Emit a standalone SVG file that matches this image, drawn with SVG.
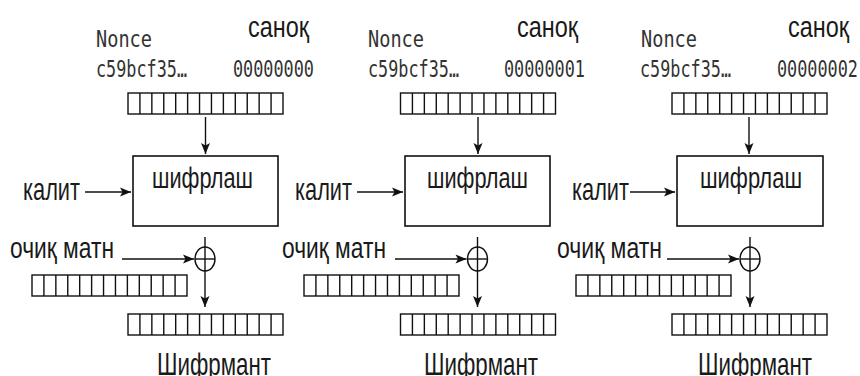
<svg xmlns="http://www.w3.org/2000/svg" xmlns:xlink="http://www.w3.org/1999/xlink" width="860" height="376" viewBox="0 0 860 376">
<style>
.mono{font-family:"DejaVu Sans Mono","Liberation Mono",monospace;font-size:23px;fill:#333}
.lbl{font-family:"Liberation Sans","DejaVu Sans",sans-serif;font-size:30px;fill:#1a1a1a}
.big{font-size:32px}
.box{fill:#fff;stroke:#111;stroke-width:1.6}
.reg rect,.reg path{fill:none;stroke:#111;stroke-width:1.4}
.xor{fill:none;stroke:#111;stroke-width:1.4}
.con{fill:none;stroke:#111;stroke-width:1.4}
</style>
<defs>
<g id="reg" class="reg">
<rect x="0" y="0" width="155" height="21"/>
<path d="M11.92 0v21M23.85 0v21M35.77 0v21M47.69 0v21M59.62 0v21M71.54 0v21M83.46 0v21M95.38 0v21M107.31 0v21M119.23 0v21M131.15 0v21M143.08 0v21"/>
</g>
<marker id="ah" markerUnits="userSpaceOnUse" markerWidth="12" markerHeight="9" refX="11" refY="4.5" orient="auto" overflow="visible">
<path d="M0 0L11 4.5L0 9L2.5 4.5z" fill="#111"/>
</marker>
</defs>
<rect width="860" height="376" fill="#fff"/>

<!-- Block 1 -->
<g id="input-1">
<text class="mono" x="96" y="47" textLength="56" lengthAdjust="spacingAndGlyphs">Nonce</text>
<text class="mono" x="96" y="77" textLength="91" lengthAdjust="spacingAndGlyphs">c59bcf35…</text>
<text class="lbl" x="248" y="37" textLength="61" lengthAdjust="spacingAndGlyphs">саноқ</text>
<text class="mono" x="233" y="77" textLength="81" lengthAdjust="spacingAndGlyphs">00000000</text>
<use xlink:href="#reg" href="#reg" x="128" y="93"/>
</g>
<g id="key-1"><text class="lbl big" x="23" y="200" textLength="57" lengthAdjust="spacingAndGlyphs">калит</text></g>
<g id="encrypt-1">
<rect class="box" x="133" y="156" width="145" height="70"/>
<text class="lbl" x="152" y="188" textLength="101" lengthAdjust="spacingAndGlyphs">шифрлаш</text>
</g>
<g id="xor-1"><ellipse class="xor" cx="205" cy="259" rx="10" ry="12"/><path class="xor" d="M195 259H215"/></g>
<g id="plain-1">
<text class="lbl" x="10" y="258" textLength="104" lengthAdjust="spacingAndGlyphs">очиқ матн</text>
<use xlink:href="#reg" href="#reg" x="32" y="275"/>
</g>
<g id="cipher-1">
<use xlink:href="#reg" href="#reg" x="128" y="314"/>
<text class="lbl big" x="157" y="375" textLength="114" lengthAdjust="spacingAndGlyphs">Шифрмант</text>
</g>

<!-- Block 2 -->
<g id="input-2">
<text class="mono" x="368" y="47" textLength="56" lengthAdjust="spacingAndGlyphs">Nonce</text>
<text class="mono" x="368" y="77" textLength="91" lengthAdjust="spacingAndGlyphs">c59bcf35…</text>
<text class="lbl" x="517" y="37" textLength="61" lengthAdjust="spacingAndGlyphs">саноқ</text>
<text class="mono" x="504" y="77" textLength="81" lengthAdjust="spacingAndGlyphs">00000001</text>
<use xlink:href="#reg" href="#reg" x="400.5" y="93"/>
</g>
<g id="key-2"><text class="lbl big" x="295" y="200" textLength="57" lengthAdjust="spacingAndGlyphs">калит</text></g>
<g id="encrypt-2">
<rect class="box" x="405" y="156" width="145" height="70"/>
<text class="lbl" x="427" y="188" textLength="101" lengthAdjust="spacingAndGlyphs">шифрлаш</text>
</g>
<g id="xor-2"><ellipse class="xor" cx="477.5" cy="259" rx="10" ry="12"/><path class="xor" d="M467.5 259H487.5"/></g>
<g id="plain-2">
<text class="lbl" x="282" y="258" textLength="104" lengthAdjust="spacingAndGlyphs">очиқ матн</text>
<use xlink:href="#reg" href="#reg" x="304" y="275"/>
</g>
<g id="cipher-2">
<use xlink:href="#reg" href="#reg" x="400.5" y="314"/>
<text class="lbl big" x="424" y="375" textLength="114" lengthAdjust="spacingAndGlyphs">Шифрмант</text>
</g>

<!-- Block 3 -->
<g id="input-3">
<text class="mono" x="641" y="47" textLength="56" lengthAdjust="spacingAndGlyphs">Nonce</text>
<text class="mono" x="640" y="77" textLength="91" lengthAdjust="spacingAndGlyphs">c59bcf35…</text>
<text class="lbl" x="788" y="37" textLength="61" lengthAdjust="spacingAndGlyphs">саноқ</text>
<text class="mono" x="777" y="77" textLength="81" lengthAdjust="spacingAndGlyphs">00000002</text>
<use xlink:href="#reg" href="#reg" x="672" y="93"/>
</g>
<g id="key-3"><text class="lbl big" x="572" y="200" textLength="57" lengthAdjust="spacingAndGlyphs">калит</text></g>
<g id="encrypt-3">
<rect class="box" x="677" y="156" width="146" height="70"/>
<text class="lbl" x="700" y="188" textLength="102" lengthAdjust="spacingAndGlyphs">шифрлаш</text>
</g>
<g id="xor-3"><ellipse class="xor" cx="750" cy="259" rx="10" ry="12"/><path class="xor" d="M740 259H760"/></g>
<g id="plain-3">
<text class="lbl" x="557" y="258" textLength="105" lengthAdjust="spacingAndGlyphs">очиқ матн</text>
<use xlink:href="#reg" href="#reg" x="576" y="275"/>
</g>
<g id="cipher-3">
<use xlink:href="#reg" href="#reg" x="672" y="314"/>
<text class="lbl big" x="698" y="375" textLength="114" lengthAdjust="spacingAndGlyphs">Шифрмант</text>
</g>

<g id="connectors" class="con">
<path d="M205.5 117V154" marker-end="url(#ah)"/>
<path d="M85 192H131" marker-end="url(#ah)"/>
<path d="M205 237V307" marker-end="url(#ah)"/>
<path d="M122 259H194" marker-end="url(#ah)"/>

<path d="M478 117V154" marker-end="url(#ah)"/>
<path d="M357 192H403" marker-end="url(#ah)"/>
<path d="M477.5 237V307" marker-end="url(#ah)"/>
<path d="M395 259H466.5" marker-end="url(#ah)"/>

<path d="M749 117V154" marker-end="url(#ah)"/>
<path d="M630 192H675" marker-end="url(#ah)"/>
<path d="M750 237V307" marker-end="url(#ah)"/>
<path d="M667 259H739" marker-end="url(#ah)"/>
</g>
</svg>
